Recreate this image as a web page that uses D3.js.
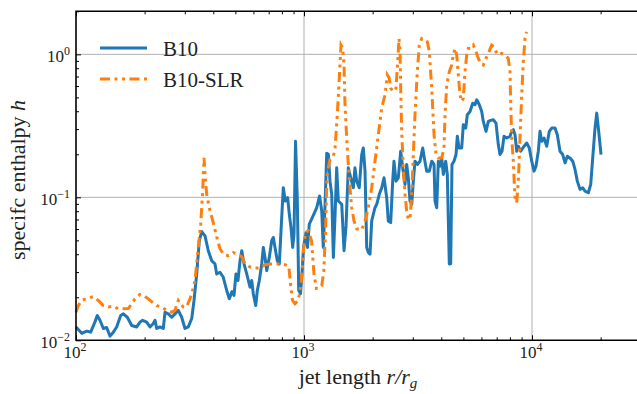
<!DOCTYPE html>
<html>
<head>
<meta charset="utf-8">
<script src="https://cdn.jsdelivr.net/npm/d3@7"></script>
<style>
  body { margin: 0; background: #fff; }
  text { font-family: "Liberation Serif", "Times New Roman", serif; fill: #222; }
</style>
</head>
<body>
<svg id="chart" width="637" height="394"></svg>
<script>
// B10 : jet length r/r_g and specific enthalpy h
var b10R = [100,106,111.4,116,121,124,127.4,131.8,136.3,141,
  145.8,150.8,157,161.3,167.9,175.5,184.6,190.8,196,204.2,
  211.1,218.3,222.1,225.9,233.5,241.5,245.7,254,262.9,271.8,
  281,290.8,300.6,310.8,321.8,329.3,338.4,347.4,355.9,368,
  380.4,393.7,407,414,428,442.6,458.1,470.3,483.3,493.2,
  503.1,513.3,524.2,533.3,545.6,560.8,579.8,589.7,599.3,614.1,
  624.1,636.8,652.5,663.1,674.5,686.2,704.4,721.6,733.4,746.1,
  763.6,779.2,798.3,811.3,827.9,848.1,862,877,892,904,
  918,935,948,965,980,995,1020,1036,1055,1081,
  1106,1137,1170,1196,1215,1236,1258,1279,1300,1323,
  1345,1368,1391,1414,1464,1498,1529,1564,1603,1645,
  1673,1702,1747,1791,1820,1852,1884,1914,1948,1981,
  2013,2048,2084,2139,2192,2243,2305,2343,2400,2449,
  2481,2532,2592,2655,2710,2773,2821,2867,2917,2968,
  3016,3068,3140,3227,3316,3370,3453,3545,3632,3718,
  3755,3820,3882,3950,4018,4083,4183,4251,4338,4399,
  4457,4548,4642,4703,4784,4917,4997,5120,5203,5347,
  5495,5623,5721,5873,6017,6115,6284,6432,6589,6765,
  6951,7115,7237,7386,7537,7745,8008,8147,8279,8422,
  8569,8708,8923,9160,9480,9731,9970,10205,10411,10656,
  10841,11028,11288,11601,11909,12201,12615,12912,13268,13636,
  13956,14284,14680,15085,15440,15803,16238,16688,17080,17660,
  18093,18460,18895,19223,19613,20076];
var b10H = [0.0124,0.0112,0.0116,0.0114,0.0134,0.0149,0.0138,0.0121,0.0123,0.0107,
  0.0114,0.0124,0.0149,0.0153,0.0145,0.0127,0.0124,0.0134,0.0138,0.0134,
  0.0124,0.0131,0.0138,0.0121,0.0124,0.0121,0.0157,0.0153,0.0145,0.0153,
  0.0162,0.0145,0.0121,0.0124,0.0142,0.019,0.0291,0.0497,0.0576,0.0538,
  0.0423,0.036,0.0342,0.0291,0.0299,0.0276,0.0223,0.0195,0.0219,0.0206,
  0.0291,0.0262,0.036,0.0423,0.0343,0.0291,0.0235,0.0262,0.0211,0.0175,
  0.0223,0.0262,0.0342,0.0446,0.038,0.0307,0.038,0.0497,0.0524,0.0446,
  0.036,0.0342,0.0721,0.1166,0.0942,0.0994,0.0761,0.0614,0.0446,0.0553,
  0.2465,0.0942,0.0223,0.0212,0.0291,0.0444,0.0564,0.0446,0.0649,0.0706,
  0.0765,0.0846,0.1021,0.0803,0.0446,0.087,0.2033,0.2001,0.1298,0.1049,
  0.038,0.0741,0.1607,0.0942,0.0894,0.0423,0.0631,0.1607,0.1369,0.1166,
  0.1607,0.1298,0.1166,0.1992,0.2214,0.1524,0.0446,0.0412,0.0401,0.0684,
  0.0761,0.0846,0.0894,0.1049,0.1166,0.1369,0.0994,0.0684,0.0666,0.1298,
  0.1789,0.1298,0.1369,0.21,0.1607,0.1231,0.1697,0.1369,0.0942,0.0894,
  0.1298,0.1789,0.1697,0.1789,0.2214,0.1886,0.1524,0.1524,0.1789,0.1697,
  0.0942,0.0846,0.1789,0.1651,0.1886,0.1445,0.1789,0.1445,0.0342,0.0343,
  0.1697,0.1789,0.1992,0.2671,0.2214,0.2214,0.3221,0.3051,0.3781,0.3986,
  0.4553,0.4438,0.4809,0.4438,0.3986,0.3396,0.2893,0.3396,0.3451,0.349,
  0.3305,0.2338,0.1992,0.21,0.2671,0.2599,0.2671,0.2893,0.2973,0.2744,
  0.21,0.2275,0.21,0.2239,0.2399,0.2214,0.1789,0.1524,0.1651,0.21,
  0.2893,0.2465,0.2599,0.2275,0.2893,0.3051,0.3051,0.2744,0.21,0.1992,
  0.1741,0.1939,0.1886,0.1789,0.1566,0.1298,0.1137,0.1166,0.1106,0.1076,
  0.1231,0.1886,0.3051,0.388,0.2893,0.1992];

// B10-SLR
var slrR = [100,102.4,106,111.4,119.1,125.3,131.8,138.6,145.8,153.3,
  161.3,169.6,175.5,181.4,190.8,197.3,207.6,218.3,225.9,237.6,
  249.9,262.9,271.8,281,287.9,295.5,305.9,314,321.8,332.6,
  343.9,352.3,359.5,364.3,368,374.3,384.3,400.1,414,428,
  442.6,465.6,489.7,509.8,533.3,551.2,579.8,609.8,641.2,674.5,
  709.4,746.1,784.7,825.4,857.6,872.6,890.4,913.1,944.1,972.1,
  995.9,1015,1044,1079,1106,1134,1155,1196,1221,1243,
  1258,1268,1300,1345,1368,1400,1428,1453,1478,1498,
  1513,1539,1564,1591,1619,1657,1702,1791,1852,1914,
  1981,2048,2118,2192,2266,2319,2366,2400,2464,2532,
  2576,2610,2637,2655,2682,2726,2773,2821,2867,2917,
  2968,3016,3068,3140,3204,3283,3394,3474,3545,3632,
  3718,3793,3882,4018,4112,4154,4226,4338,4444,4516,
  4595,4674,4751,4833,4917,4997,5083,5171,5255,5384,
  5527,5680,5814,5957,6115,6284,6432,6657,6813,6951,
  7115,7364,7613,7871,8008,8066,8147,8279,8364,8449,
  8569,8708,8857,9012,9160,9318,9461];
var slrH = [0.0157,0.0175,0.019,0.0196,0.0202,0.019,0.0175,0.0171,0.0173,0.0166,
  0.0166,0.0167,0.018,0.0195,0.0209,0.0206,0.0195,0.0182,0.0175,0.017,
  0.0162,0.0157,0.0162,0.019,0.018,0.0171,0.0172,0.019,0.0211,0.0262,
  0.0446,0.0649,0.1106,0.1886,0.1445,0.1049,0.0846,0.0663,0.0529,0.0437,
  0.0401,0.039,0.041,0.0401,0.0384,0.0342,0.0325,0.0321,0.0321,0.0338,
  0.0342,0.0342,0.0342,0.0338,0.033,0.0249,0.019,0.018,0.019,0.0253,
  0.0437,0.0569,0.0583,0.0497,0.0291,0.023,0.023,0.0241,0.0302,0.0583,
  0.1231,0.1524,0.1838,0.1939,0.2214,0.3781,0.6797,1.16,1.099,0.8424,
  0.4438,0.2599,0.1697,0.1166,0.0846,0.0684,0.0602,0.0592,0.0684,0.0846,
  0.1166,0.1789,0.2744,0.4202,0.5211,0.7178,0.6797,0.5789,0.5494,0.5789,
  0.8881,1.29,1.099,0.5789,0.2893,0.1607,0.1049,0.0803,0.0703,0.0703,
  0.1049,0.1992,0.3781,0.7568,1.16,1.29,1.258,1.224,1.043,0.5789,
  0.2744,0.1992,0.1886,0.1886,0.2214,0.3781,0.6113,0.7568,0.8424,0.9888,
  1.099,0.9888,0.7178,0.5211,0.468,0.4934,0.7568,0.9888,1.099,1.099,
  1.16,1.043,0.9365,0.8645,0.8424,0.9365,1.015,1.16,1.129,1.043,
  0.9888,1.015,0.9888,0.9365,0.7568,0.4438,0.2599,0.1789,0.1231,0.0942,
  0.0917,0.1298,0.2599,0.5211,0.8881,1.29,1.437];

var xMajor = [100, 1000, 10000];
var xMinor = [200,300,400,500,600,700,800,900,2000,3000,4000,5000,6000,7000,8000,9000,20000,30000];
var yMajor = [0.01, 0.1, 1];
var yMinor = [0.02,0.03,0.04,0.05,0.06,0.07,0.08,0.09,0.2,0.3,0.4,0.5,0.6,0.7,0.8,0.9,2];
var xTickExp = ["2", "3", "4"];
var yTickExp = ["\u22122", "\u22121", "0"];
var seriesNames = ["B10", "B10-SLR"];

var svg = d3.select("#chart");
var m = { left: 76, right: 640.8, top: 11.3, bottom: 340.3 };

var x = d3.scaleLog().domain([100, 30000]).range([m.left, m.right]);
var y = d3.scaleLog().domain([0.01, 2]).range([m.bottom, m.top]);

// grid
svg.append("g").selectAll("line").data(xMajor.slice(1)).enter().append("line")
    .attr("x1", d => x(d)).attr("x2", d => x(d))
    .attr("y1", m.top).attr("y2", m.bottom)
    .attr("stroke", "#b0b0b0").attr("stroke-width", 1);
svg.append("g").selectAll("line").data(yMajor.slice(1)).enter().append("line")
    .attr("x1", m.left).attr("x2", m.right)
    .attr("y1", d => y(d)).attr("y2", d => y(d))
    .attr("stroke", "#b0b0b0").attr("stroke-width", 1);

// lines
var line = d3.line()
    .x(d => x(d[0]))
    .y(d => y(d[1]));

svg.append("path")
    .datum(d3.zip(b10R, b10H))
    .attr("fill", "none")
    .attr("stroke", "#1f77b4")
    .attr("stroke-width", 3)
    .attr("stroke-linejoin", "round")
    .attr("d", line);

svg.append("path")
    .datum(d3.zip(slrR, slrH))
    .attr("fill", "none")
    .attr("stroke", "#ff7f0e")
    .attr("stroke-width", 3)
    .attr("stroke-dasharray", "10,4.5,3,4.5,3,4.5")
    .attr("d", line);

// axes, ticks pointing inward
function styleAxis(g) {
    g.select(".domain").remove();
    g.selectAll(".tick line").attr("stroke", "#000").attr("stroke-width", 1);
    g.selectAll(".tick text").remove();
}
svg.append("g").attr("transform", "translate(0," + m.bottom + ")")
    .call(d3.axisBottom(x).tickValues(xMajor).tickSize(-5)).call(styleAxis);
svg.append("g").attr("transform", "translate(0," + m.bottom + ")")
    .call(d3.axisBottom(x).tickValues(xMinor).tickSize(-3)).call(styleAxis);
svg.append("g").attr("transform", "translate(0," + m.top + ")")
    .call(d3.axisTop(x).tickValues(xMajor).tickSize(-5)).call(styleAxis);
svg.append("g").attr("transform", "translate(0," + m.top + ")")
    .call(d3.axisTop(x).tickValues(xMinor).tickSize(-3)).call(styleAxis);
svg.append("g").attr("transform", "translate(" + m.left + ",0)")
    .call(d3.axisLeft(y).tickValues(yMajor).tickSize(-5)).call(styleAxis);
svg.append("g").attr("transform", "translate(" + m.left + ",0)")
    .call(d3.axisLeft(y).tickValues(yMinor).tickSize(-3)).call(styleAxis);

// spines
svg.append("path")
    .attr("d", "M" + m.right + "," + m.top + "H" + m.left + "V" + m.bottom + "H" + m.right)
    .attr("fill", "none").attr("stroke", "#000").attr("stroke-width", 1.6);

// tick labels 10^n
function powLabel(g, px, py, exp, anchor) {
    var t = g.append("text").attr("x", px).attr("y", py)
        .attr("text-anchor", anchor).style("font-size", "17px");
    t.append("tspan").text("10");
    t.append("tspan").attr("dy", -7).style("font-size", "12px").text(exp);
}
var labels = svg.append("g");
xMajor.forEach((d, i) => powLabel(labels, x(d) - 1, 358, xTickExp[i], "middle"));
yMajor.forEach((d, i) => powLabel(labels, 70, y(d) + 7.5, yTickExp[i], "end"));

// axis titles
var xl = svg.append("text").attr("x", 358).attr("y", 384)
    .attr("text-anchor", "middle").style("font-size", "22px");
xl.append("tspan").text("jet length ");
xl.append("tspan").style("font-style", "italic").text("r/r");
xl.append("tspan").style("font-style", "italic").style("font-size", "15px").attr("dy", 4).text("g");

var yl = svg.append("text")
    .attr("transform", "translate(25,180) rotate(-90)")
    .attr("text-anchor", "middle").style("font-size", "22px");
yl.append("tspan").text("specifc enthalpy ");
yl.append("tspan").style("font-style", "italic").text("h");

// legend
var legend = svg.append("g");
legend.append("line").attr("x1", 100).attr("x2", 147).attr("y1", 48).attr("y2", 48)
    .attr("stroke", "#1f77b4").attr("stroke-width", 3);
legend.append("line").attr("x1", 100).attr("x2", 147).attr("y1", 79).attr("y2", 79)
    .attr("stroke", "#ff7f0e").attr("stroke-width", 3)
    .attr("stroke-dasharray", "10,4.5,3,4.5,3,4.5");
legend.append("text").attr("x", 163).attr("y", 55.5).style("font-size", "21px").text(seriesNames[0]);
legend.append("text").attr("x", 163).attr("y", 87).style("font-size", "21px").text(seriesNames[1]);
</script>
</body>
</html>
